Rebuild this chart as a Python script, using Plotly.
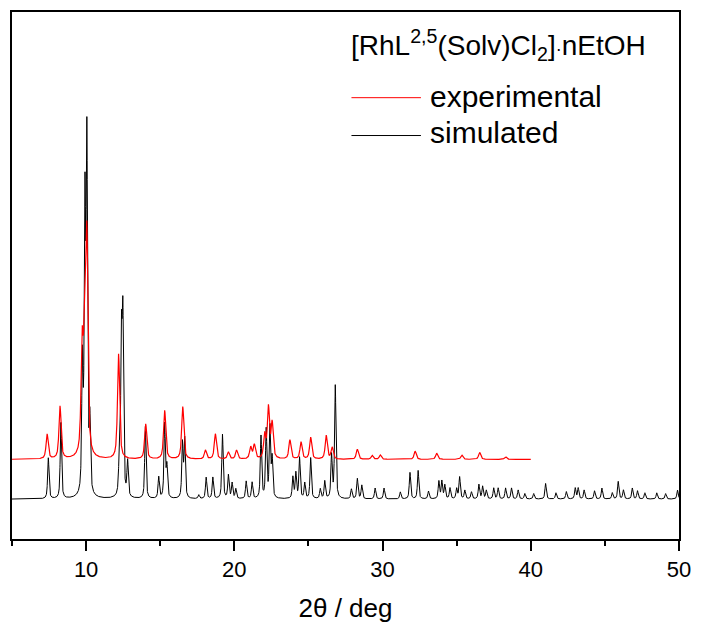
import numpy as np
import plotly.graph_objects as go

# ---------------- data ----------------
# simulated pattern: peak positions (2theta, deg) and heights (a.u.)
sim_pos = [7.45, 8.3, 9.75, 9.92, 10.05, 10.25, 12.23, 12.38, 12.48, 12.8,
           14.0, 14.9, 15.3, 15.45, 16.5, 16.65, 17.6, 18.1, 18.55, 19.2,
           19.6, 19.85, 20.1, 20.8, 21.2, 21.8, 22.15, 22.4, 22.55, 23.95,
           24.15, 24.4, 24.75, 25.15, 25.8, 26.1, 26.56, 26.81, 27.9, 28.3,
           28.6, 29.5, 30.1, 31.2, 31.85, 32.4, 33.1, 33.8, 34.0, 34.2,
           34.55, 35.0, 35.2, 35.55, 36.0, 36.5, 36.75, 37.0, 37.5, 37.8,
           38.3, 38.7, 39.15, 39.6, 40.2, 41.0, 41.7, 42.4, 43.0, 43.2,
           43.6, 44.3, 44.8, 45.5, 45.9, 46.25, 46.85, 47.2, 47.7, 48.5,
           49.1, 49.9]
sim_h = [10.5, 19.5, 33, 72, 89, 18, 7, 39, 44, 9,
         18.5, 5.5, 19, 8, 14, 15, 1, 5.5, 5.5, 16.5,
         6, 4, 2.5, 4.5, 4.2, 16, 17.5, 18, 10, 5.5,
         6.5, 10.5, 4, 10.5, 2.5, 4.5, 11, 29, 2.5, 5.2,
         3.5, 2.8, 2.8, 1.8, 6.8, 7.3, 2, 4.5, 4.5, 3.5,
         2.8, 2.6, 5.6, 2.2, 1.8, 3.7, 3.2, 2.2, 2.8, 2.8,
         2.8, 2.8, 2.3, 1.4, 1.4, 4, 1.6, 1.9, 2.8, 2.8,
         2.3, 2.1, 2.8, 1.6, 4.5, 2.3, 2.8, 2.1, 1.6, 1.6,
         1.4, 2.3]
sim_fwhm = 0.11

# experimental pattern: peak positions and heights above its own baseline
exp_pos = [7.37, 8.24, 9.73, 9.9, 10.05, 12.19, 14.02, 15.3, 16.52, 18.05,
           18.72, 19.6, 20.15, 21.1, 21.35, 22.05, 22.3, 22.55, 23.75, 24.5,
           25.15, 26.2, 26.6, 28.3, 29.3, 29.85, 32.2, 33.65, 35.35, 36.55,
           38.3]
exp_h = [6.4, 13.5, 27, 28, 54, 27, 9, 12.5, 13.5, 2.3,
         6.5, 1.8, 2.3, 3, 3.6, 6, 13, 9, 4.9, 4.4,
         5.6, 6.1, 3, 2.6, 1, 1.1, 2.1, 1.6, 1.1, 1.8,
         0.7]
exp_fwhm = 0.17
exp_offset = 10.2
exp_range = [5.0, 40.0]
sim_range = [5.0, 50.0]

x_ticks = [10, 20, 30, 40, 50]
title_text = ("[RhL<sup>2,5</sup>(Solv)Cl<sub>2</sub>]"
              "<span style='font-size:18px'>·</span>nEtOH")
legend_names = ["experimental", "simulated"]


def profile(x, pos, h, fwhm, eta=0.65):
    x = np.asarray(x)[:, None]
    p = np.asarray(pos)[None, :]
    a = np.asarray(h)[None, :]
    d = (x - p) / (fwhm / 2)
    lor = 1.0 / (1.0 + d ** 2)
    gau = np.exp(-np.log(2) * d ** 2)
    return (a * (eta * lor + (1 - eta) * gau)).sum(axis=1)


xs = np.arange(sim_range[0], sim_range[1] + 1e-9, 0.005)
ys = profile(xs, sim_pos, sim_h, sim_fwhm)
xe = np.arange(exp_range[0], exp_range[1] + 1e-9, 0.005)
ye = profile(xe, exp_pos, exp_h, exp_fwhm, eta=0.7) + exp_offset

fig = go.Figure()
fig.add_trace(go.Scatter(x=xs, y=ys, mode="lines", name=legend_names[1],
                         line=dict(color="#000000", width=1), showlegend=False))
fig.add_trace(go.Scatter(x=xe, y=ye, mode="lines", name=legend_names[0],
                         line=dict(color="#ff0000", width=1.2), showlegend=False))

# pixel helpers for the plot area (left 12, right 684, top 10, bottom 539)
L, R, T, B = 12, 684, 10, 539
def px(x):
    return (x - L) / (R - L)
def py(y):
    return (B - y) / (B - T)

font = "Liberation Sans, Arial, sans-serif"
fig.add_annotation(x=px(352), y=py(43), xref="paper", yref="paper",
                   text=title_text, showarrow=False, xanchor="left",
                   yanchor="middle", font=dict(family=font, size=28, color="#000"))
fig.add_shape(type="line", xref="paper", yref="paper", x0=px(354), x1=px(424),
              y0=py(96), y1=py(96), line=dict(color="#ff0000", width=1))
fig.add_shape(type="line", xref="paper", yref="paper", x0=px(354), x1=px(424),
              y0=py(134), y1=py(134), line=dict(color="#000000", width=1))
fig.add_annotation(x=px(431), y=py(94.5), xref="paper", yref="paper",
                   text=legend_names[0], showarrow=False, xanchor="left",
                   yanchor="middle", font=dict(family=font, size=30, color="#000"))
fig.add_annotation(x=px(431), y=py(131), xref="paper", yref="paper",
                   text=legend_names[1], showarrow=False, xanchor="left",
                   yanchor="middle", font=dict(family=font, size=30, color="#000"))

fig.update_layout(
    width=701, height=630,
    margin=dict(l=L, r=701 - R, t=T, b=630 - B),
    paper_bgcolor="white", plot_bgcolor="white",
    font=dict(family=font, color="#000"),
    xaxis=dict(range=[5, 50], tickvals=x_ticks, ticks="outside", ticklen=10,
               tickwidth=1.5, tickcolor="#000", showline=True, linewidth=1.5,
               linecolor="#000", mirror=True, showgrid=False, zeroline=False,
               tickfont=dict(size=22, family=font),
               minor=dict(tickvals=[5, 15, 25, 35, 45], ticks="outside",
                          ticklen=5, tickwidth=1.5, tickcolor="#000"),
               title=dict(text="2θ / deg", font=dict(size=26, family=font),
                          standoff=18)),
    yaxis=dict(range=[-10.23, 125.06], showticklabels=False, ticks="",
               showline=True, linewidth=2, linecolor="#000", mirror=True,
               showgrid=False, zeroline=False),
)

fig.write_html("out.html")
